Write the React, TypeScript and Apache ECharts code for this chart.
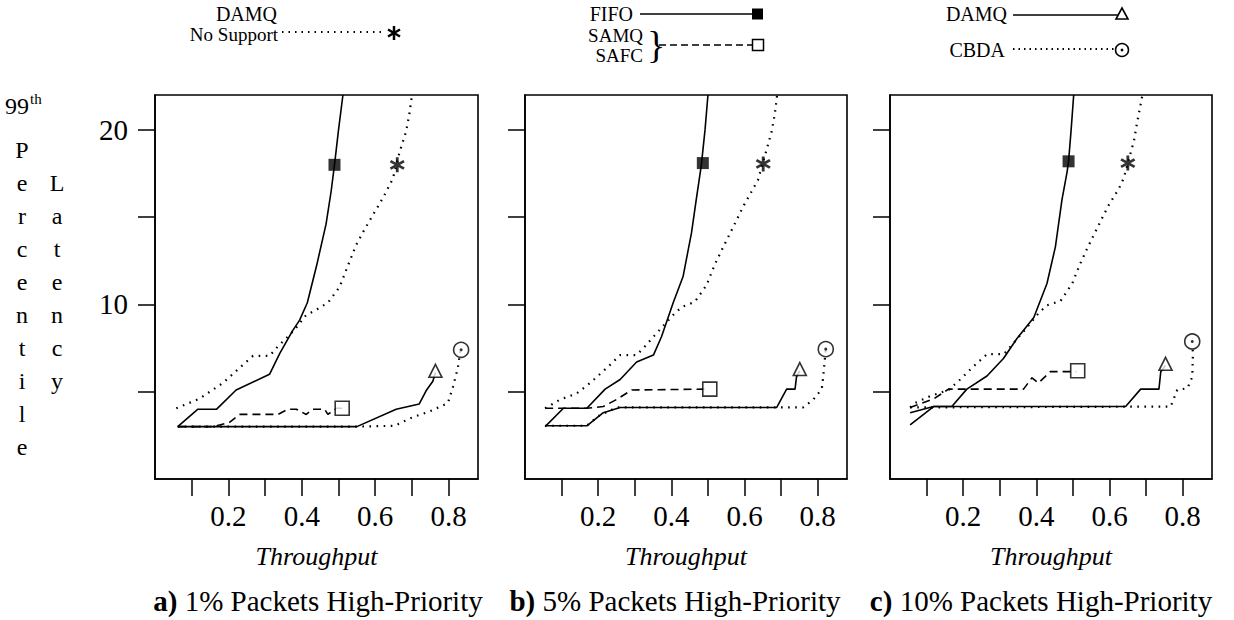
import React, { useEffect, useRef } from "react";
import * as echarts from "echarts";

// ---------- data ----------
const xTicks = [0.1, 0.2, 0.3, 0.4, 0.5, 0.6, 0.7, 0.8];
const xTickLabels = [0.2, 0.4, 0.6, 0.8];
const yTicks = [5, 10, 15, 20];
const yTickLabels = [10, 20];
const xRange = [0, 0.88];
const yRange = [0, 22];

const panelCaptions = ["a)", "b)", "c)"];
const panelTitles = ["1% Packets High-Priority", "5% Packets High-Priority", "10% Packets High-Priority"];
const xName = "Throughput";
const yTitleLeft = "Percentile";
const yTitleRight = "Latency";

// Panel a (1%)
const fifoA = [[0.062, 3], [0.117, 4], [0.168, 4], [0.221, 5.1], [0.312, 6], [0.34, 7.2], [0.375, 8.5], [0.394, 9.1], [0.415, 10.1], [0.44, 12.2], [0.466, 14.6], [0.48, 16.5], [0.489, 18], [0.5, 20], [0.512, 22]];
const noSupA = [[0.058, 4.05], [0.121, 4.6], [0.185, 5.5], [0.248, 6.7], [0.267, 7.05], [0.312, 7.05], [0.335, 7.6], [0.357, 8.05], [0.38, 8.55], [0.412, 9.4], [0.44, 9.7], [0.471, 10.1], [0.503, 11], [0.525, 12.2], [0.548, 13.4], [0.571, 14.3], [0.593, 15.1], [0.621, 16.1], [0.648, 17.2], [0.666, 18.7], [0.684, 19.9], [0.693, 20.9], [0.7, 22]];
const samqA = [[0.062, 3], [0.16, 3], [0.203, 3.25], [0.23, 3.7], [0.28, 3.7], [0.335, 3.7], [0.362, 4], [0.385, 4], [0.412, 3.7], [0.43, 4], [0.462, 4], [0.471, 3.7], [0.494, 4.05], [0.51, 4.05]];
const damqA = [[0.062, 3], [0.55, 3], [0.657, 4], [0.72, 4.3], [0.74, 5.1], [0.757, 5.6], [0.764, 6.1]];
const cbdaA = [[0.062, 3], [0.55, 3], [0.653, 3.05], [0.703, 3.55], [0.748, 3.87], [0.798, 4.35], [0.812, 5.3], [0.825, 6.35], [0.832, 7.4]];
const markA = { fifo: [0.489, 18], noSup: [0.66, 18], samq: [0.51, 4.05], damq: [0.764, 6.2], cbda: [0.834, 7.4] };

// Panel b (5%)
const fifoB = [[0.055, 3], [0.105, 4.05], [0.169, 4.05], [0.219, 5.15], [0.26, 5.7], [0.305, 6.7], [0.351, 7.1], [0.373, 8.15], [0.405, 10.1], [0.432, 11.6], [0.455, 14.1], [0.468, 16], [0.482, 18], [0.492, 20], [0.5, 22]];
const noSupB = [[0.055, 4.05], [0.096, 4.55], [0.141, 4.9], [0.178, 5.5], [0.228, 6.45], [0.26, 7.1], [0.305, 7.1], [0.328, 7.6], [0.351, 8.15], [0.405, 9.4], [0.428, 9.85], [0.464, 10.15], [0.496, 11.1], [0.519, 12.3], [0.542, 13.3], [0.574, 14.65], [0.596, 15.6], [0.624, 16.65], [0.637, 17.15], [0.66, 18.85], [0.674, 19.9], [0.683, 20.95], [0.689, 22]];
const samqB = [[0.055, 4.05], [0.169, 4.05], [0.214, 4.15], [0.25, 4.55], [0.292, 5.1], [0.5, 5.15]];
const damqB = [[0.055, 3.05], [0.169, 3.05], [0.214, 3.8], [0.26, 4.1], [0.688, 4.1], [0.715, 5.15], [0.738, 5.15], [0.742, 5.85], [0.751, 6.2]];
const cbdaB = [[0.055, 3.05], [0.169, 3.05], [0.2, 3.6], [0.25, 4.1], [0.76, 4.1], [0.788, 4.55], [0.811, 5.15], [0.815, 5.85], [0.82, 7.0], [0.822, 7.4]];
const markB = { fifo: [0.486, 18.1], noSup: [0.651, 18.05], samq: [0.505, 5.15], damq: [0.751, 6.3], cbda: [0.822, 7.44] };

// Panel c (10%)
const fifoC = [[0.055, 3.1], [0.119, 4.15], [0.169, 4.15], [0.21, 5.15], [0.265, 5.9], [0.31, 6.9], [0.347, 8.05], [0.393, 9.25], [0.429, 11.2], [0.452, 13.3], [0.47, 16], [0.484, 17.6], [0.488, 18.2], [0.495, 20], [0.502, 22]];
const noSupC = [[0.055, 4.1], [0.068, 4.35], [0.11, 4.75], [0.16, 5.1], [0.192, 5.7], [0.228, 6.45], [0.265, 7.15], [0.311, 7.15], [0.338, 7.8], [0.375, 8.7], [0.406, 9.5], [0.429, 9.95], [0.466, 10.2], [0.498, 11.2], [0.519, 12.3], [0.541, 13.3], [0.575, 14.75], [0.598, 15.7], [0.626, 16.65], [0.639, 17.25], [0.667, 19.4], [0.676, 20.5], [0.69, 22]];
const samqC = [[0.055, 4.1], [0.12, 4.6], [0.16, 5.15], [0.365, 5.15], [0.388, 5.8], [0.406, 5.5], [0.438, 6.15], [0.51, 6.15]];
const damqC = [[0.055, 3.8], [0.119, 4.15], [0.644, 4.15], [0.685, 5.15], [0.735, 5.15], [0.74, 6.15], [0.753, 6.5]];
const cbdaC = [[0.055, 4.1], [0.767, 4.15], [0.785, 5.1], [0.813, 5.2], [0.826, 5.85], [0.828, 7.2], [0.826, 7.7]];
const markC = { fifo: [0.488, 18.2], noSup: [0.65, 18.1], samq: [0.513, 6.2], damq: [0.753, 6.6], cbda: [0.826, 7.88] };

const panels = [
  { fifo: fifoA, noSup: noSupA, samq: samqA, damq: damqA, cbda: cbdaA, mark: markA },
  { fifo: fifoB, noSup: noSupB, samq: samqB, damq: damqB, cbda: cbdaB, mark: markB },
  { fifo: fifoC, noSup: noSupC, samq: samqC, damq: damqC, cbda: cbdaC, mark: markC },
];

// ---------- styles ----------
const FONT = '"Liberation Serif", "Times New Roman", serif';
const INK = "#000";
const gridBoxes = [
  { left: 155, top: 95, width: 323, height: 384 },
  { left: 525, top: 95, width: 322, height: 384 },
  { left: 890, top: 95, width: 322, height: 384 },
];
const solid = { color: INK, width: 1.6, type: "solid" };
const dotted = { color: INK, width: 2.2, type: [1.6, 5.5], cap: "butt" };
const dashed = { color: INK, width: 1.6, type: [8, 5] };
const ASTER =
  "path://M -0.18 -1 L 0.18 -1 L 0.18 1 L -0.18 1 Z M -0.956 -0.344 L -0.776 -0.656 L 0.956 0.344 L 0.776 0.656 Z M -0.776 0.656 L -0.956 0.344 L 0.776 -0.656 L 0.956 -0.344 Z";

function buildOption() {
  const series: any[] = [];
  const xAxis: any[] = [];
  const yAxis: any[] = [];
  const grid: any[] = [];
  panels.forEach((p, i) => {
    grid.push({ ...gridBoxes[i], show: true, borderColor: INK, borderWidth: 1.6, backgroundColor: "transparent", containLabel: false });
    xAxis.push({
      type: "value",
      gridIndex: i,
      min: xRange[0],
      max: xRange[1],
      axisLine: { show: true, lineStyle: { color: INK, width: 1.6 } },
      axisTick: { show: true, inside: false, length: 17, customValues: xTicks, lineStyle: { color: INK, width: 1.5 } },
      axisLabel: {
        show: true,
        customValues: xTickLabels,
        formatter: (v: number) => v.toFixed(1),
        color: INK,
        fontFamily: FONT,
        fontSize: 29,
        margin: 22,
      },
      splitLine: { show: false },
      name: xName,
      nameLocation: "middle",
      nameGap: 64,
      nameTextStyle: { color: INK, fontFamily: FONT, fontSize: 26, fontStyle: "italic" },
    });
    yAxis.push({
      type: "value",
      gridIndex: i,
      min: yRange[0],
      max: yRange[1],
      axisLine: { show: true, lineStyle: { color: INK, width: 1.6 } },
      axisTick: { show: true, inside: false, length: 17, customValues: yTicks, lineStyle: { color: INK, width: 1.5 } },
      axisLabel: {
        show: i === 0,
        customValues: yTickLabels,
        color: INK,
        fontFamily: FONT,
        fontSize: 29,
        margin: 27,
      },
      splitLine: { show: false },
    });
    const line = (data: number[][], ls: any) => ({
      type: "line",
      xAxisIndex: i,
      yAxisIndex: i,
      data,
      symbol: "none",
      lineStyle: ls,
      silent: true,
      clip: true,
    });
    series.push(line(p.fifo, solid));
    series.push(line(p.noSup, dotted));
    series.push(line(p.samq, dashed));
    series.push(line(p.damq, solid));
    series.push(line(p.cbda, dotted));
    const mk = (pt: number[], symbol: string, size: number, itemStyle: any) => ({
      type: "scatter",
      xAxisIndex: i,
      yAxisIndex: i,
      data: [pt],
      symbol,
      symbolSize: size,
      itemStyle,
      silent: true,
      z: 5,
    });
    const open = { color: "#fff", borderColor: INK, borderWidth: 1.6 };
    series.push(mk(p.mark.fifo, "rect", 12, { color: INK }));
    series.push(mk(p.mark.noSup, ASTER, 15, { color: INK }));
    series.push(mk(p.mark.samq, "rect", 14, open));
    series.push(mk(p.mark.damq, "triangle", 13, open));
    series.push(mk(p.mark.cbda, "circle", 15, open));
    series.push(mk(p.mark.cbda, "circle", 3, { color: INK }));
  });

  const txt = (text: string, x: number, y: number, size: number, align = "right", extra: any = {}) => ({
    type: "text",
    x,
    y,
    silent: true,
    style: { text, fill: INK, font: `${size}px ${FONT}`, textAlign: align, textVerticalAlign: "middle", ...extra },
  });
  const ln = (x1: number, y1: number, x2: number, y2: number, w: number, dash?: number[]) => ({
    type: "line",
    silent: true,
    shape: { x1, y1, x2, y2 },
    style: { stroke: INK, lineWidth: w, lineDash: dash || null },
  });

  const graphic: any[] = [
    // legend part 1
    txt("DAMQ", 277, 14, 20),
    txt("No Support", 278, 34, 19),
    ln(282, 32, 386, 32, 2, [1.5, 5]),
    ln(394, 26, 394, 40, 2.5),
    ln(388, 29.5, 400, 36.5, 2.5),
    ln(388, 36.5, 400, 29.5, 2.5),
    // legend part 2
    txt("FIFO", 633, 14, 20),
    ln(640, 14, 754, 14, 1.6),
    { type: "rect", silent: true, shape: { x: 752, y: 8.5, width: 11, height: 11 }, style: { fill: INK } },
    txt("SAMQ", 643, 35, 19),
    txt("SAFC", 643, 55, 19),
    txt("}", 647, 45, 38, "left"),
    ln(659, 45, 752, 45, 1.6, [7, 4]),
    { type: "rect", silent: true, shape: { x: 752.5, y: 39.5, width: 11, height: 11 }, style: { fill: "#fff", stroke: INK, lineWidth: 1.5 } },
    // legend part 3
    txt("DAMQ", 1007, 14, 20),
    ln(1013, 15, 1118, 15, 1.6),
    { type: "polygon", silent: true, shape: { points: [[1122, 8], [1116, 19], [1128, 19]] }, style: { fill: "#fff", stroke: INK, lineWidth: 1.6 } },
    txt("CBDA", 1005, 50, 20),
    ln(1013, 49, 1114, 49, 2, [1.5, 4]),
    { type: "circle", silent: true, shape: { cx: 1122, cy: 50, r: 6.5 }, style: { fill: "#fff", stroke: INK, lineWidth: 1.5 } },
    { type: "circle", silent: true, shape: { cx: 1122, cy: 50, r: 1.4 }, style: { fill: INK } },
    // y title
    txt("99", 5, 106, 24, "left"),
    txt("th", 30, 99, 15, "left"),
  ];
  yTitleLeft.split("").forEach((ch, k) => graphic.push(txt(ch, 22, 150 + k * 33, 24, "center")));
  yTitleRight.split("").forEach((ch, k) => graphic.push(txt(ch, 57, 150 + (k + 1) * 33, 24, "center")));
  // captions
  const capX = [318, 675, 1041];
  panelCaptions.forEach((c, i) => {
    graphic.push({
      type: "text",
      x: capX[i],
      y: 601,
      silent: true,
      style: {
        text: `{b|${c}} ${panelTitles[i]}`,
        fill: INK,
        font: `29px ${FONT}`,
        textAlign: "center",
        textVerticalAlign: "middle",
        rich: { b: { fontWeight: "bold", fontSize: 29, fontFamily: FONT, fill: INK } },
      },
    });
  });

  return { animation: false, backgroundColor: "#fff", grid, xAxis, yAxis, series, graphic };
}

export default function App() {
  const ref = useRef<HTMLDivElement>(null);
  useEffect(() => {
    if (!ref.current) return;
    const chart = echarts.init(ref.current, null, { renderer: "svg" });
    chart.setOption(buildOption() as any);
    return () => chart.dispose();
  }, []);
  return <div ref={ref} style={{ position: "fixed", left: 0, top: 0, width: 1234, height: 620, background: "#fff" }} />;
}
